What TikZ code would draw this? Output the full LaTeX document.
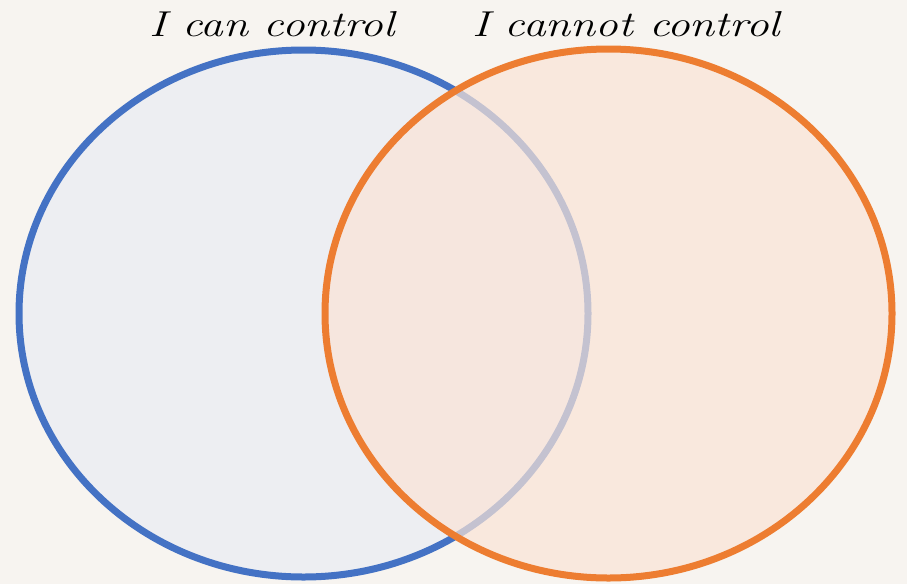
\documentclass[tikz,border=0pt]{standalone}
\usepackage{fontspec}
\usepackage[svgnames]{xcolor}
\usepackage{tikz}
\usetikzlibrary{positioning}
\definecolor{cpage}{HTML}{F7F4F0}
\definecolor{ccan}{HTML}{4472C4}
\definecolor{ccanfill}{HTML}{EDEEF2}
\definecolor{cnot}{HTML}{ED7D31}
\definecolor{cnotfill}{HTML}{FBE4D6}
\tikzset{
  setline/.style={line width=7pt},
  canset/.style={setline, draw=ccan, fill=ccanfill},
  notset/.style={setline, draw=cnot, fill=cnotfill, fill opacity=0.7, draw opacity=1},
  head/.style={font=\fontsize{36}{42}\selectfont\itshape, text=black, inner sep=0pt, xscale=1.26},
}
\begin{document}
\begin{tikzpicture}[x=1pt,y=-1pt]
\fill[cpage] (0,0) rectangle (907,584);
\useasboundingbox (0,0) rectangle (907,584);
% ---------------- the two sets
\draw[canset] (303.5,313.5) ellipse [x radius=284.5, y radius=263.5];
\draw[notset] (608.5,313.5) ellipse [x radius=283.5, y radius=264.5];
% ---------------- headings
\node[head] (canlbl) at (272,24) {I can control};
\node[head] (notlbl) at (626,24) {I cannot control};
\end{tikzpicture}
\end{document}
